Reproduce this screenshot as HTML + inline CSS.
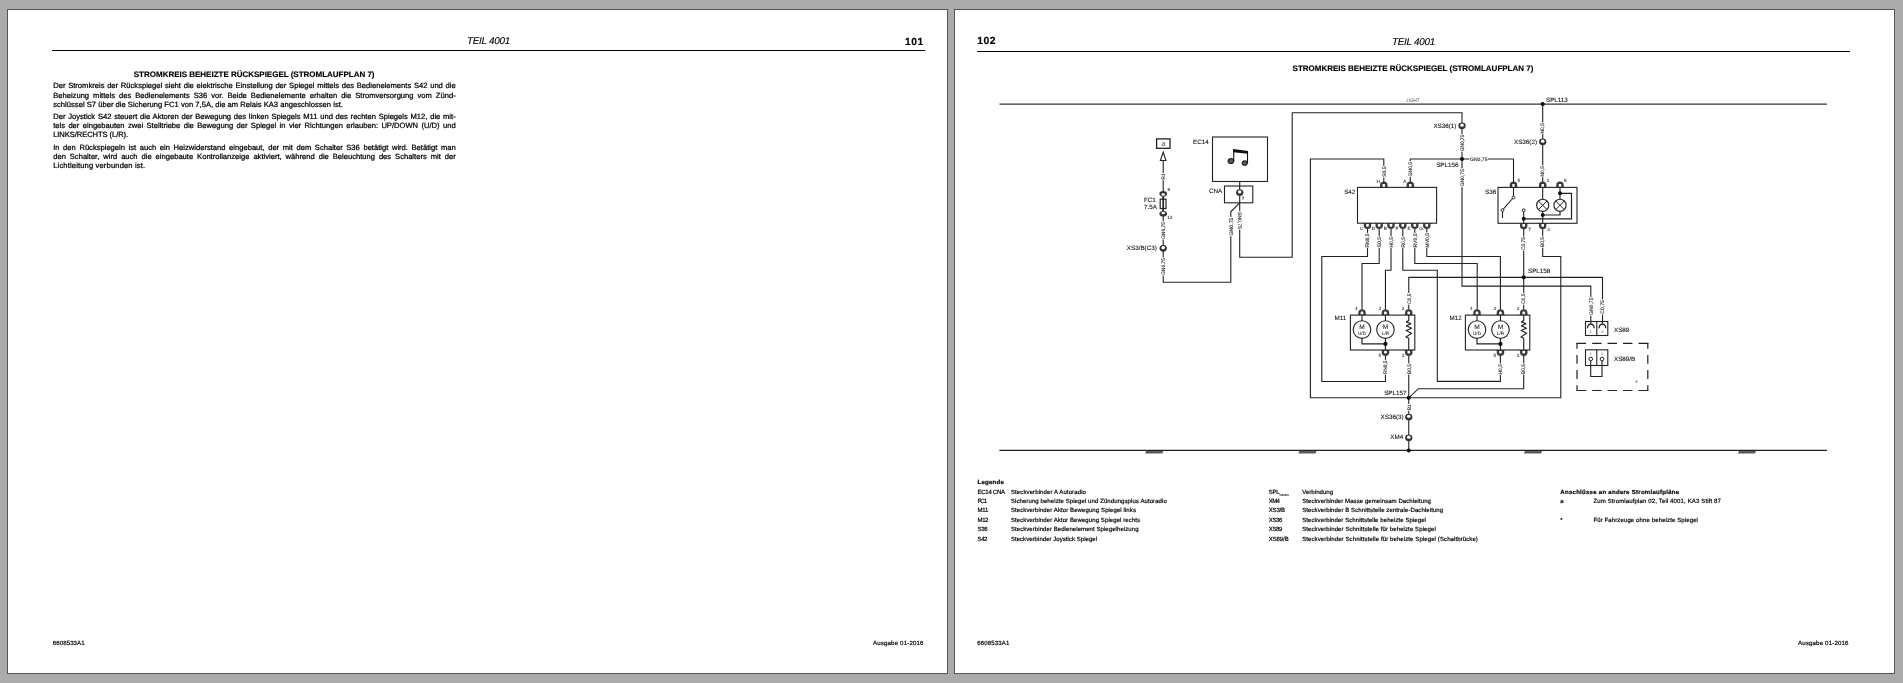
<!DOCTYPE html>
<html><head><meta charset="utf-8"><title>Stromlaufplan 7</title>
<style>
html,body{margin:0;padding:0;}
body{width:1903px;height:683px;background:#ababab;position:relative;overflow:hidden;font-family:"Liberation Sans",sans-serif;color:#000;}
#wrap{position:absolute;left:0;top:0;width:1903px;height:683px;filter:grayscale(1);}
.page{position:absolute;width:939px;height:663px;background:#fff;border:1px solid #555;}
.rule{position:absolute;height:1px;background:#000;}
.t{position:absolute;white-space:nowrap;text-rendering:geometricPrecision;}
svg{position:absolute;left:0;top:0;}
svg text{font-family:"Liberation Sans",sans-serif;text-rendering:geometricPrecision;}
</style></head>
<body>
<div id="wrap">
<div class="page" style="left:7px;top:9px;"></div>
<div class="page" style="left:954px;top:9px;"></div>
<div class="rule" style="left:52px;top:50px;width:873px;"></div>
<div class="rule" style="left:977px;top:51px;width:873px;"></div>
<div class="t" style="left:467.00px;top:36px;font-size:9.9px;line-height:12px;letter-spacing:-0.275px;font-style:italic;-webkit-text-stroke:0.12px #000;">TEIL 4001</div>
<div class="t" style="left:905.00px;top:37px;font-size:10.3px;line-height:12px;letter-spacing:0.557px;font-weight:bold;-webkit-text-stroke:0.15px #000;">101</div>
<div class="t" style="left:977.30px;top:36px;font-size:10.3px;line-height:12px;letter-spacing:0.557px;font-weight:bold;-webkit-text-stroke:0.15px #000;">102</div>
<div class="t" style="left:1392.00px;top:37px;font-size:9.9px;line-height:12px;letter-spacing:-0.275px;font-style:italic;-webkit-text-stroke:0.12px #000;">TEIL 4001</div>
<div class="t" style="left:133.80px;top:69px;font-size:8.0px;line-height:12px;letter-spacing:-0.010px;font-weight:bold;-webkit-text-stroke:0.15px #000;">STROMKREIS BEHEIZTE RÜCKSPIEGEL (STROMLAUFPLAN 7)</div>
<div class="t" style="left:53.20px;top:80px;font-size:7.6px;line-height:12px;width:402.50px;white-space:normal;text-align:justify;text-align-last:justify;-webkit-text-stroke:0.24px #000;">Der Stromkreis der Rückspiegel sieht die elektrische Einstellung der Spiegel mittels des Bedienelements S42 und die</div>
<div class="t" style="left:53.20px;top:90px;font-size:7.6px;line-height:12px;width:402.50px;white-space:normal;text-align:justify;text-align-last:justify;-webkit-text-stroke:0.24px #000;">Beheizung mittels des Bedienelements S36 vor. Beide Bedienelemente erhalten die Stromversorgung vom Zünd-</div>
<div class="t" style="left:53.20px;top:99px;font-size:7.6px;line-height:12px;letter-spacing:0.018px;-webkit-text-stroke:0.24px #000;">schlüssel S7 über die Sicherung FC1 von 7,5A, die am Relais KA3 angeschlossen ist.</div>
<div class="t" style="left:53.20px;top:111px;font-size:7.6px;line-height:12px;width:402.50px;white-space:normal;text-align:justify;text-align-last:justify;-webkit-text-stroke:0.24px #000;">Der Joystick S42 steuert die Aktoren der Bewegung des linken Spiegels M11 und des rechten Spiegels M12, die mit-</div>
<div class="t" style="left:53.20px;top:120px;font-size:7.6px;line-height:12px;width:402.50px;white-space:normal;text-align:justify;text-align-last:justify;-webkit-text-stroke:0.24px #000;">tels der eingebauten zwei Stelltriebe die Bewegung der Spiegel in vier Richtungen erlauben: UP/DOWN (U/D) und</div>
<div class="t" style="left:53.20px;top:129px;font-size:7.6px;line-height:12px;letter-spacing:-0.080px;-webkit-text-stroke:0.24px #000;">LINKS/RECHTS (L/R).</div>
<div class="t" style="left:53.20px;top:142px;font-size:7.6px;line-height:12px;width:402.50px;white-space:normal;text-align:justify;text-align-last:justify;-webkit-text-stroke:0.24px #000;">In den Rückspiegeln ist auch ein Heizwiderstand eingebaut, der mit dem Schalter S36 betätigt wird. Betätigt man</div>
<div class="t" style="left:53.20px;top:151px;font-size:7.6px;line-height:12px;width:402.50px;white-space:normal;text-align:justify;text-align-last:justify;-webkit-text-stroke:0.24px #000;">den Schalter, wird auch die eingebaute Kontrollanzeige aktiviert, während die Beleuchtung des Schalters mit der</div>
<div class="t" style="left:53.20px;top:160px;font-size:7.6px;line-height:12px;letter-spacing:0.142px;-webkit-text-stroke:0.24px #000;">Lichtleitung verbunden ist.</div>
<div class="t" style="left:52.70px;top:638px;font-size:6.1px;line-height:12px;letter-spacing:0.099px;-webkit-text-stroke:0.18px #000;">6608533A1</div>
<div class="t" style="left:873.00px;top:638px;font-size:6.1px;line-height:12px;letter-spacing:0.167px;-webkit-text-stroke:0.18px #000;">Ausgabe 01-2016</div>
<div class="t" style="left:977.30px;top:638px;font-size:6.1px;line-height:12px;letter-spacing:0.099px;-webkit-text-stroke:0.18px #000;">6608533A1</div>
<div class="t" style="left:1798.00px;top:638px;font-size:6.1px;line-height:12px;letter-spacing:0.167px;-webkit-text-stroke:0.18px #000;">Ausgabe 01-2016</div>
<div class="t" style="left:1292.60px;top:63px;font-size:8.0px;line-height:12px;letter-spacing:-0.010px;font-weight:bold;-webkit-text-stroke:0.15px #000;">STROMKREIS BEHEIZTE RÜCKSPIEGEL (STROMLAUFPLAN 7)</div>
<div class="t" style="left:977.60px;top:477px;font-size:6.05px;line-height:12px;letter-spacing:0.220px;font-weight:bold;-webkit-text-stroke:0.18px #000;">Legende</div>
<div class="t" style="left:977.60px;top:487px;font-size:6.05px;line-height:12px;letter-spacing:-0.313px;-webkit-text-stroke:0.18px #000;">EC14 CNA</div>
<div class="t" style="left:1010.90px;top:487px;font-size:6.05px;line-height:12px;letter-spacing:0.098px;-webkit-text-stroke:0.18px #000;">Steckverbinder A Autoradio</div>
<div class="t" style="left:977.60px;top:496px;font-size:6.05px;line-height:12px;letter-spacing:-0.915px;-webkit-text-stroke:0.18px #000;">FC1</div>
<div class="t" style="left:1010.90px;top:496px;font-size:6.05px;line-height:12px;letter-spacing:0.070px;-webkit-text-stroke:0.18px #000;">Sicherung beheizte Spiegel und Zündungsplus Autoradio</div>
<div class="t" style="left:977.60px;top:505px;font-size:6.05px;line-height:12px;letter-spacing:-0.260px;-webkit-text-stroke:0.18px #000;">M11</div>
<div class="t" style="left:1010.90px;top:505px;font-size:6.05px;line-height:12px;letter-spacing:0.080px;-webkit-text-stroke:0.18px #000;">Steckverbinder Aktor Bewegung Spiegel links</div>
<div class="t" style="left:977.60px;top:515px;font-size:6.05px;line-height:12px;letter-spacing:-0.485px;-webkit-text-stroke:0.18px #000;">M12</div>
<div class="t" style="left:1010.90px;top:515px;font-size:6.05px;line-height:12px;letter-spacing:0.074px;-webkit-text-stroke:0.18px #000;">Steckverbinder Aktor Bewegung Spiegel rechts</div>
<div class="t" style="left:977.60px;top:524px;font-size:6.05px;line-height:12px;letter-spacing:-0.383px;-webkit-text-stroke:0.18px #000;">S36</div>
<div class="t" style="left:1010.90px;top:524px;font-size:6.05px;line-height:12px;letter-spacing:0.053px;-webkit-text-stroke:0.18px #000;">Steckverbinder Bedienelement Spiegelheizung</div>
<div class="t" style="left:977.60px;top:534px;font-size:6.05px;line-height:12px;letter-spacing:-0.483px;-webkit-text-stroke:0.18px #000;">S42</div>
<div class="t" style="left:1010.90px;top:534px;font-size:6.05px;line-height:12px;letter-spacing:0.026px;-webkit-text-stroke:0.18px #000;">Steckverbinder Joystick Spiegel</div>
<div class="t" style="left:1268.80px;top:487px;font-size:6.05px;line-height:12px;letter-spacing:-0.266px;-webkit-text-stroke:0.18px #000;">SPL___</div>
<div class="t" style="left:1302.20px;top:487px;font-size:6.05px;line-height:12px;letter-spacing:0.032px;-webkit-text-stroke:0.18px #000;">Verbindung</div>
<div class="t" style="left:1268.80px;top:496px;font-size:6.05px;line-height:12px;letter-spacing:-0.670px;-webkit-text-stroke:0.18px #000;">XM4</div>
<div class="t" style="left:1302.20px;top:496px;font-size:6.05px;line-height:12px;letter-spacing:0.058px;-webkit-text-stroke:0.18px #000;">Steckverbinder Masse gemeinsam Dachleitung</div>
<div class="t" style="left:1268.80px;top:505px;font-size:6.05px;line-height:12px;letter-spacing:-0.238px;-webkit-text-stroke:0.18px #000;">XS3/B</div>
<div class="t" style="left:1302.20px;top:505px;font-size:6.05px;line-height:12px;letter-spacing:0.069px;-webkit-text-stroke:0.18px #000;">Steckverbinder B Schnittstelle zentrale-Dachleitung</div>
<div class="t" style="left:1268.80px;top:515px;font-size:6.05px;line-height:12px;letter-spacing:-0.400px;-webkit-text-stroke:0.18px #000;">XS36</div>
<div class="t" style="left:1302.20px;top:515px;font-size:6.05px;line-height:12px;letter-spacing:0.062px;-webkit-text-stroke:0.18px #000;">Steckverbinder Schnittstelle beheizte Spiegel</div>
<div class="t" style="left:1268.80px;top:524px;font-size:6.05px;line-height:12px;letter-spacing:-0.400px;-webkit-text-stroke:0.18px #000;">XS89</div>
<div class="t" style="left:1302.20px;top:524px;font-size:6.05px;line-height:12px;letter-spacing:0.079px;-webkit-text-stroke:0.18px #000;">Steckverbinder Schnittstelle für beheizte Spiegel</div>
<div class="t" style="left:1268.80px;top:534px;font-size:6.05px;line-height:12px;letter-spacing:-0.123px;-webkit-text-stroke:0.18px #000;">XS89/B</div>
<div class="t" style="left:1302.20px;top:534px;font-size:6.05px;line-height:12px;letter-spacing:0.084px;-webkit-text-stroke:0.18px #000;">Steckverbinder Schnittstelle für beheizte Spiegel (Schaltbrücke)</div>
<div class="t" style="left:1560.30px;top:487px;font-size:6.05px;line-height:12px;letter-spacing:0.263px;font-weight:bold;-webkit-text-stroke:0.18px #000;">Anschlüsse an andere Stromlaufpläne</div>
<div class="t" style="left:1560.30px;top:496px;font-size:6.05px;line-height:12px;-webkit-text-stroke:0.18px #000;">a</div>
<div class="t" style="left:1593.40px;top:496px;font-size:6.05px;line-height:12px;letter-spacing:0.120px;-webkit-text-stroke:0.18px #000;">Zum Stromlaufplan 02, Teil 4001, KA3 Stift 87</div>
<div class="t" style="left:1560.30px;top:515px;font-size:6.05px;line-height:12px;-webkit-text-stroke:0.18px #000;">*</div>
<div class="t" style="left:1593.40px;top:515px;font-size:6.05px;line-height:12px;letter-spacing:0.099px;-webkit-text-stroke:0.18px #000;">Für Fahrzeuge ohne beheizte Spiegel</div>
<svg width="1903" height="683" viewBox="0 0 1903 683">
<path d="M999.5,104.05 L1827,104.05" fill="none" stroke="#333" stroke-width="1.2" />
<path d="M999.4,450.4 L1827,450.4" fill="none" stroke="#222" stroke-width="1.15" />
<path d="M1146.2,450.9 L1163.3,450.9 L1162.3,453.4 L1145.1,453.4 Z" fill="#5a5a5a"/>
<path d="M1299.4,450.9 L1316.5,450.9 L1315.5,453.4 L1298.3,453.4 Z" fill="#5a5a5a"/>
<path d="M1524.9,450.9 L1542,450.9 L1541,453.4 L1523.8,453.4 Z" fill="#5a5a5a"/>
<path d="M1738.9,450.9 L1756,450.9 L1755,453.4 L1737.8,453.4 Z" fill="#5a5a5a"/>
<text x="1406.5" y="101.9" font-size="5.0" fill="#444" textLength="13" lengthAdjust="spacingAndGlyphs">LIGHT</text>
<path d="M1163.2,160.5 L1163.2,282.2 L1230.8,282.2 L1230.8,211.8 L1239.4,203.1" fill="none" stroke="#222" stroke-width="1.1" />
<path d="M1239.7,181.5 L1239.7,257.2 L1292.2,257.2 L1292.2,112.8 L1462,112.8 L1462,286.1 L1590.8,286.1 L1590.8,321.5" fill="none" stroke="#222" stroke-width="1.1" />
<path d="M1383.8,182 L1383.8,159 L1310.4,159 L1310.4,397.8 L1560.8,397.8 L1560.8,256.5 L1542.7,256.5 L1542.7,229" fill="none" stroke="#222" stroke-width="1.1" />
<path d="M1410.3,182 L1410.3,159 L1513.5,159 L1513.5,182" fill="none" stroke="#222" stroke-width="1.1" />
<path d="M1367.5,229 L1367.5,256.5 L1321.8,256.5 L1321.8,381.5 L1385.45,381.5 L1385.45,356" fill="none" stroke="#222" stroke-width="1.1" />
<path d="M1379.2,229 L1379.2,263.5 L1362,263.5 L1362,309.5" fill="none" stroke="#222" stroke-width="1.1" />
<path d="M1391,229 L1391,270.3 L1385.45,270.3 L1385.45,309.5" fill="none" stroke="#222" stroke-width="1.1" />
<path d="M1402.8,229 L1402.8,270.3 L1437.3,270.3 L1437.3,381.4 L1500.4,381.4 L1500.4,356" fill="none" stroke="#222" stroke-width="1.1" />
<path d="M1414.8,229 L1414.8,263.5 L1477.2,263.5 L1477.2,309.5" fill="none" stroke="#222" stroke-width="1.1" />
<path d="M1426.8,229 L1426.8,256.5 L1500.4,256.5 L1500.4,309.5" fill="none" stroke="#222" stroke-width="1.1" />
<path d="M1408.75,309.5 L1408.75,277.4 L1602.5,277.4 L1602.5,321.5" fill="none" stroke="#222" stroke-width="1.1" />
<path d="M1523.7,229 L1523.7,309.5" fill="none" stroke="#222" stroke-width="1.1" />
<path d="M1542.7,104 L1542.7,182" fill="none" stroke="#222" stroke-width="1.1" />
<path d="M1408.75,356 L1408.75,450.4" fill="none" stroke="#222" stroke-width="1.1" />
<path d="M1523.7,356 L1523.7,388.7 L1418.4,388.7 L1408.75,397.8" fill="none" stroke="#222" stroke-width="1.1" />
<rect x="1161" y="172.9" width="4.4" height="7.2" fill="#fff"/>
<text transform="translate(1164.95,179.5) rotate(-90)" font-size="5.0" fill="#262626" textLength="6" lengthAdjust="spacingAndGlyphs" stroke="#262626" stroke-width="0.12">R1</text>
<rect x="1161" y="221.4" width="4.4" height="18.2" fill="#fff"/>
<text transform="translate(1164.95,239) rotate(-90)" font-size="5.0" fill="#262626" textLength="17" lengthAdjust="spacingAndGlyphs" stroke="#262626" stroke-width="0.12">GN0,75</text>
<rect x="1161" y="257.4" width="4.4" height="18.2" fill="#fff"/>
<text transform="translate(1164.95,275) rotate(-90)" font-size="5.0" fill="#262626" textLength="17" lengthAdjust="spacingAndGlyphs" stroke="#262626" stroke-width="0.12">GN0,75</text>
<rect x="1228.6" y="216.9" width="4.4" height="19.2" fill="#fff"/>
<text transform="translate(1232.55,235.5) rotate(-90)" font-size="5.0" fill="#262626" textLength="18" lengthAdjust="spacingAndGlyphs" stroke="#262626" stroke-width="0.12">GN0,75</text>
<rect x="1237.5" y="210.9" width="4.4" height="18.7" fill="#fff"/>
<text transform="translate(1237.95,211.5) rotate(90)" font-size="5.0" fill="#262626" textLength="17.5" lengthAdjust="spacingAndGlyphs" stroke="#262626" stroke-width="0.12">GN0,75</text>
<rect x="1459.8" y="134.4" width="4.4" height="17.2" fill="#fff"/>
<text transform="translate(1463.75,151) rotate(-90)" font-size="5.0" fill="#262626" textLength="16" lengthAdjust="spacingAndGlyphs" stroke="#262626" stroke-width="0.12">GN0,75</text>
<rect x="1459.8" y="168.4" width="4.4" height="18.7" fill="#fff"/>
<text transform="translate(1463.75,186.5) rotate(-90)" font-size="5.0" fill="#262626" textLength="17.5" lengthAdjust="spacingAndGlyphs" stroke="#262626" stroke-width="0.12">GN0,75</text>
<rect x="1469.4" y="156.8" width="18.7" height="4.4" fill="#fff"/>
<text x="1470" y="160.75" font-size="5.0" fill="#262626" textLength="17.5" lengthAdjust="spacingAndGlyphs" stroke="#262626" stroke-width="0.12">GN0,75</text>
<rect x="1381.6" y="165.9" width="4.4" height="11.7" fill="#fff"/>
<text transform="translate(1385.55,177) rotate(-90)" font-size="5.0" fill="#262626" textLength="10.5" lengthAdjust="spacingAndGlyphs" stroke="#262626" stroke-width="0.12">S0,5</text>
<rect x="1408.1" y="161.2" width="4.4" height="15.9" fill="#fff"/>
<text transform="translate(1412.05,176.5) rotate(-90)" font-size="5.0" fill="#262626" textLength="14.7" lengthAdjust="spacingAndGlyphs" stroke="#262626" stroke-width="0.12">GN0,5</text>
<rect x="1365.3" y="232.9" width="4.4" height="15.2" fill="#fff"/>
<text transform="translate(1369.25,247.5) rotate(-90)" font-size="5.0" fill="#262626" textLength="14" lengthAdjust="spacingAndGlyphs" stroke="#262626" stroke-width="0.12">RN0,5</text>
<rect x="1377" y="236.4" width="4.4" height="11.7" fill="#fff"/>
<text transform="translate(1380.95,247.5) rotate(-90)" font-size="5.0" fill="#262626" textLength="10.5" lengthAdjust="spacingAndGlyphs" stroke="#262626" stroke-width="0.12">S0,5</text>
<rect x="1388.8" y="236.4" width="4.4" height="11.7" fill="#fff"/>
<text transform="translate(1392.75,247.5) rotate(-90)" font-size="5.0" fill="#262626" textLength="10.5" lengthAdjust="spacingAndGlyphs" stroke="#262626" stroke-width="0.12">H0,5</text>
<rect x="1400.6" y="236.4" width="4.4" height="11.7" fill="#fff"/>
<text transform="translate(1404.55,247.5) rotate(-90)" font-size="5.0" fill="#262626" textLength="10.5" lengthAdjust="spacingAndGlyphs" stroke="#262626" stroke-width="0.12">R0,5</text>
<rect x="1412.6" y="232.9" width="4.4" height="15.2" fill="#fff"/>
<text transform="translate(1416.55,247.5) rotate(-90)" font-size="5.0" fill="#262626" textLength="14" lengthAdjust="spacingAndGlyphs" stroke="#262626" stroke-width="0.12">RV0,5</text>
<rect x="1424.6" y="232.4" width="4.4" height="15.7" fill="#fff"/>
<text transform="translate(1428.55,247.5) rotate(-90)" font-size="5.0" fill="#262626" textLength="14.5" lengthAdjust="spacingAndGlyphs" stroke="#262626" stroke-width="0.12">MV0,5</text>
<rect x="1540.5" y="122.4" width="4.4" height="11.7" fill="#fff"/>
<text transform="translate(1544.45,133.5) rotate(-90)" font-size="5.0" fill="#262626" textLength="10.5" lengthAdjust="spacingAndGlyphs" stroke="#262626" stroke-width="0.12">N0,5</text>
<rect x="1540.5" y="165.4" width="4.4" height="11.7" fill="#fff"/>
<text transform="translate(1544.45,176.5) rotate(-90)" font-size="5.0" fill="#262626" textLength="10.5" lengthAdjust="spacingAndGlyphs" stroke="#262626" stroke-width="0.12">N0,5</text>
<rect x="1521.5" y="236.4" width="4.4" height="14.2" fill="#fff"/>
<text transform="translate(1525.45,250) rotate(-90)" font-size="5.0" fill="#262626" textLength="13" lengthAdjust="spacingAndGlyphs" stroke="#262626" stroke-width="0.12">C0,75</text>
<rect x="1540.5" y="236.4" width="4.4" height="11.2" fill="#fff"/>
<text transform="translate(1544.45,247) rotate(-90)" font-size="5.0" fill="#262626" textLength="10" lengthAdjust="spacingAndGlyphs" stroke="#262626" stroke-width="0.12">B0,5</text>
<rect x="1406.55" y="292.9" width="4.4" height="11.7" fill="#fff"/>
<text transform="translate(1410.5,304) rotate(-90)" font-size="5.0" fill="#262626" textLength="10.5" lengthAdjust="spacingAndGlyphs" stroke="#262626" stroke-width="0.12">C0,5</text>
<rect x="1521.5" y="292.9" width="4.4" height="11.7" fill="#fff"/>
<text transform="translate(1525.45,304) rotate(-90)" font-size="5.0" fill="#262626" textLength="10.5" lengthAdjust="spacingAndGlyphs" stroke="#262626" stroke-width="0.12">C0,5</text>
<rect x="1588.6" y="296.9" width="4.4" height="18.7" fill="#fff"/>
<text transform="translate(1592.55,315) rotate(-90)" font-size="5.0" fill="#262626" textLength="17.5" lengthAdjust="spacingAndGlyphs" stroke="#262626" stroke-width="0.12">GN0,75</text>
<rect x="1600.3" y="299.4" width="4.4" height="15.2" fill="#fff"/>
<text transform="translate(1604.25,314) rotate(-90)" font-size="5.0" fill="#262626" textLength="14" lengthAdjust="spacingAndGlyphs" stroke="#262626" stroke-width="0.12">C0,75</text>
<rect x="1383.25" y="359.9" width="4.4" height="14.7" fill="#fff"/>
<text transform="translate(1387.2,374) rotate(-90)" font-size="5.0" fill="#262626" textLength="13.5" lengthAdjust="spacingAndGlyphs" stroke="#262626" stroke-width="0.12">RN0,5</text>
<rect x="1406.55" y="363.4" width="4.4" height="11.2" fill="#fff"/>
<text transform="translate(1410.5,374) rotate(-90)" font-size="5.0" fill="#262626" textLength="10" lengthAdjust="spacingAndGlyphs" stroke="#262626" stroke-width="0.12">B0,5</text>
<rect x="1498.3" y="363.4" width="4.4" height="11.7" fill="#fff"/>
<text transform="translate(1502.25,374.5) rotate(-90)" font-size="5.0" fill="#262626" textLength="10.5" lengthAdjust="spacingAndGlyphs" stroke="#262626" stroke-width="0.12">H0,5</text>
<rect x="1521.5" y="363.4" width="4.4" height="11.2" fill="#fff"/>
<text transform="translate(1525.45,374) rotate(-90)" font-size="5.0" fill="#262626" textLength="10" lengthAdjust="spacingAndGlyphs" stroke="#262626" stroke-width="0.12">B0,5</text>
<rect x="1406.55" y="403.9" width="4.4" height="6.7" fill="#fff"/>
<text transform="translate(1410.5,410) rotate(-90)" font-size="5.0" fill="#262626" textLength="5.5" lengthAdjust="spacingAndGlyphs" stroke="#262626" stroke-width="0.12">B1</text>
<rect x="1156.6" y="138.9" width="13.4" height="9.4" fill="none" stroke="#222" stroke-width="1.3" />
<text x="1163.3" y="145.9" font-size="7.6" fill="#555" text-anchor="middle">a</text>
<path d="M1163.2,152.2 L1160.4,160.5 L1166,160.5 Z" fill="#fff" stroke="#222" stroke-width="1.1" stroke-linejoin="miter"/>
<ellipse cx="1163.2" cy="193.8" rx="3.8" ry="2.8" fill="#333"/>
<ellipse cx="1163.2" cy="194.45" rx="1.8" ry="1.3" fill="#fff"/>
<ellipse cx="1163.2" cy="213.7" rx="3.8" ry="2.8" fill="#333"/>
<ellipse cx="1163.2" cy="213.05" rx="1.8" ry="1.3" fill="#fff"/>
<rect x="1160.2" y="199.2" width="5.8" height="9.3" fill="#fff" stroke="#222" stroke-width="1.2" />
<path d="M1163.2,196.5 L1163.2,211" fill="none" stroke="#222" stroke-width="1.7" />
<text x="1168.8" y="191.3" font-size="4.7" fill="#222" text-anchor="middle" stroke="#222" stroke-width="0.07">9</text>
<text x="1169.8" y="219.3" font-size="4.7" fill="#222" text-anchor="middle" stroke="#222" stroke-width="0.07">13</text>
<text x="1144" y="202" font-size="6.27" fill="#111" stroke="#111" stroke-width="0.1">FC1</text>
<text x="1144" y="209" font-size="6.27" fill="#111" stroke="#111" stroke-width="0.1">7.5A</text>
<ellipse cx="1163.2" cy="248.3" rx="3.65" ry="3.35" fill="#333"/>
<ellipse cx="1163.2" cy="247.65" rx="1.8" ry="1.7" fill="#fff"/>
<text x="1156.8" y="250.3" font-size="6.27" fill="#111" text-anchor="end" stroke="#111" stroke-width="0.1">XS3/B(C3)</text>
<rect x="1212.5" y="137" width="55" height="44.5" fill="none" stroke="#222" stroke-width="1.1" />
<rect x="1224.5" y="186" width="28.3" height="16.8" fill="none" stroke="#222" stroke-width="1.1" />
<text x="1193" y="144" font-size="6.27" fill="#111" stroke="#111" stroke-width="0.1">EC14</text>
<text x="1209" y="192.8" font-size="6.27" fill="#111" stroke="#111" stroke-width="0.1">CNA</text>
<ellipse cx="1239.7" cy="192.5" rx="3.65" ry="3.35" fill="#333"/>
<ellipse cx="1239.7" cy="191.85" rx="1.8" ry="1.7" fill="#fff"/>
<text x="1243" y="199.5" font-size="4.7" fill="#222" text-anchor="middle" stroke="#222" stroke-width="0.07">7</text>
<ellipse cx="1230.9" cy="161.1" rx="3.0" ry="2.6" fill="#555" stroke="#111" stroke-width="1"/>
<ellipse cx="1244.7" cy="163.1" rx="2.7" ry="2.4" fill="#555" stroke="#111" stroke-width="1"/>
<path d="M1233.7,149.3 L1233.7,161" fill="none" stroke="#111" stroke-width="1.1" />
<path d="M1247.5,151 L1247.5,163" fill="none" stroke="#111" stroke-width="1.1" />
<path d="M1233.2,149 L1248,150.9 L1248,153.7 L1233.2,152.2 Z" fill="#111"/>
<ellipse cx="1462" cy="125.8" rx="3.65" ry="3.35" fill="#333"/>
<ellipse cx="1462" cy="125.15" rx="1.8" ry="1.7" fill="#fff"/>
<text x="1456.4" y="128" font-size="6.27" fill="#111" text-anchor="end" stroke="#111" stroke-width="0.1">XS36(1)</text>
<circle cx="1462" cy="159" r="2.1" fill="#111"/>
<text x="1436.2" y="167" font-size="6.27" fill="#111" stroke="#111" stroke-width="0.1">SPL156</text>
<rect x="1357.5" y="187.4" width="79.1" height="35.8" fill="#fff" stroke="#222" stroke-width="1.1" />
<text x="1344.2" y="193.5" font-size="6.27" fill="#111" stroke="#111" stroke-width="0.1">S42</text>
<circle cx="1383.8" cy="185.25" r="3.75" fill="#3a3a3a"/>
<rect x="1382.45" y="183.9" width="2.7" height="3" rx="0.9" fill="#fff"/>
<rect x="1379.6" y="187.4" width="8.4" height="2.2" fill="#fff"/>
<path d="M1379.4,187.4 L1388.2,187.4" stroke="#222" stroke-width="1.1" fill="none"/>
<text x="1378.2" y="182.6" font-size="4.7" fill="#222" text-anchor="middle" stroke="#222" stroke-width="0.07">H</text>
<circle cx="1410.3" cy="185.25" r="3.75" fill="#3a3a3a"/>
<rect x="1408.95" y="183.9" width="2.7" height="3" rx="0.9" fill="#fff"/>
<rect x="1406.1" y="187.4" width="8.4" height="2.2" fill="#fff"/>
<path d="M1405.9,187.4 L1414.7,187.4" stroke="#222" stroke-width="1.1" fill="none"/>
<text x="1404.7" y="182.6" font-size="4.7" fill="#222" text-anchor="middle" stroke="#222" stroke-width="0.07">A</text>
<circle cx="1367.5" cy="225.35" r="3.75" fill="#3a3a3a"/>
<rect x="1366.15" y="223.7" width="2.7" height="3" rx="0.9" fill="#fff"/>
<rect x="1363.3" y="221" width="8.4" height="2.2" fill="#fff"/>
<path d="M1363.1,223.2 L1371.9,223.2" stroke="#222" stroke-width="1.1" fill="none"/>
<text x="1361.7" y="230" font-size="4.7" fill="#222" text-anchor="middle" stroke="#222" stroke-width="0.07">C</text>
<circle cx="1379.2" cy="225.35" r="3.75" fill="#3a3a3a"/>
<rect x="1377.85" y="223.7" width="2.7" height="3" rx="0.9" fill="#fff"/>
<rect x="1375" y="221" width="8.4" height="2.2" fill="#fff"/>
<path d="M1374.8,223.2 L1383.6,223.2" stroke="#222" stroke-width="1.1" fill="none"/>
<text x="1373.4" y="230" font-size="4.7" fill="#222" text-anchor="middle" stroke="#222" stroke-width="0.07">D</text>
<circle cx="1391" cy="225.35" r="3.75" fill="#3a3a3a"/>
<rect x="1389.65" y="223.7" width="2.7" height="3" rx="0.9" fill="#fff"/>
<rect x="1386.8" y="221" width="8.4" height="2.2" fill="#fff"/>
<path d="M1386.6,223.2 L1395.4,223.2" stroke="#222" stroke-width="1.1" fill="none"/>
<text x="1385.2" y="230" font-size="4.7" fill="#222" text-anchor="middle" stroke="#222" stroke-width="0.07">B</text>
<circle cx="1402.8" cy="225.35" r="3.75" fill="#3a3a3a"/>
<rect x="1401.45" y="223.7" width="2.7" height="3" rx="0.9" fill="#fff"/>
<rect x="1398.6" y="221" width="8.4" height="2.2" fill="#fff"/>
<path d="M1398.4,223.2 L1407.2,223.2" stroke="#222" stroke-width="1.1" fill="none"/>
<text x="1397" y="230" font-size="4.7" fill="#222" text-anchor="middle" stroke="#222" stroke-width="0.07">F</text>
<circle cx="1414.8" cy="225.35" r="3.75" fill="#3a3a3a"/>
<rect x="1413.45" y="223.7" width="2.7" height="3" rx="0.9" fill="#fff"/>
<rect x="1410.6" y="221" width="8.4" height="2.2" fill="#fff"/>
<path d="M1410.4,223.2 L1419.2,223.2" stroke="#222" stroke-width="1.1" fill="none"/>
<text x="1409" y="230" font-size="4.7" fill="#222" text-anchor="middle" stroke="#222" stroke-width="0.07">E</text>
<circle cx="1426.8" cy="225.35" r="3.75" fill="#3a3a3a"/>
<rect x="1425.45" y="223.7" width="2.7" height="3" rx="0.9" fill="#fff"/>
<rect x="1422.6" y="221" width="8.4" height="2.2" fill="#fff"/>
<path d="M1422.4,223.2 L1431.2,223.2" stroke="#222" stroke-width="1.1" fill="none"/>
<text x="1421" y="230" font-size="4.7" fill="#222" text-anchor="middle" stroke="#222" stroke-width="0.07">G</text>
<circle cx="1542.7" cy="104" r="2.1" fill="#111"/>
<text x="1546" y="101.7" font-size="6.27" fill="#111" stroke="#111" stroke-width="0.1">SPL113</text>
<ellipse cx="1542.7" cy="141.8" rx="3.65" ry="3.35" fill="#333"/>
<ellipse cx="1542.7" cy="141.15" rx="1.8" ry="1.7" fill="#fff"/>
<text x="1537" y="144" font-size="6.27" fill="#111" text-anchor="end" stroke="#111" stroke-width="0.1">XS36(2)</text>
<rect x="1498" y="187.4" width="79" height="35.9" fill="#fff" stroke="#222" stroke-width="1.1" />
<text x="1485" y="193.5" font-size="6.27" fill="#111" stroke="#111" stroke-width="0.1">S36</text>
<circle cx="1513.5" cy="185.25" r="3.75" fill="#3a3a3a"/>
<rect x="1512.15" y="183.9" width="2.7" height="3" rx="0.9" fill="#fff"/>
<rect x="1509.3" y="187.4" width="8.4" height="2.2" fill="#fff"/>
<path d="M1509.1,187.4 L1517.9,187.4" stroke="#222" stroke-width="1.1" fill="none"/>
<text x="1518.9" y="181.8" font-size="4.7" fill="#222" text-anchor="middle" stroke="#222" stroke-width="0.07">5</text>
<circle cx="1542.7" cy="185.25" r="3.75" fill="#3a3a3a"/>
<rect x="1541.35" y="183.9" width="2.7" height="3" rx="0.9" fill="#fff"/>
<rect x="1538.5" y="187.4" width="8.4" height="2.2" fill="#fff"/>
<path d="M1538.3,187.4 L1547.1,187.4" stroke="#222" stroke-width="1.1" fill="none"/>
<text x="1548.1" y="181.8" font-size="4.7" fill="#222" text-anchor="middle" stroke="#222" stroke-width="0.07">1</text>
<circle cx="1560" cy="185.25" r="3.75" fill="#3a3a3a"/>
<rect x="1558.65" y="183.9" width="2.7" height="3" rx="0.9" fill="#fff"/>
<rect x="1555.8" y="187.4" width="8.4" height="2.2" fill="#fff"/>
<path d="M1555.6,187.4 L1564.4,187.4" stroke="#222" stroke-width="1.1" fill="none"/>
<text x="1565.4" y="181.8" font-size="4.7" fill="#222" text-anchor="middle" stroke="#222" stroke-width="0.07">9</text>
<circle cx="1523.7" cy="225.45" r="3.75" fill="#3a3a3a"/>
<rect x="1522.35" y="223.8" width="2.7" height="3" rx="0.9" fill="#fff"/>
<rect x="1519.5" y="221.1" width="8.4" height="2.2" fill="#fff"/>
<path d="M1519.3,223.3 L1528.1,223.3" stroke="#222" stroke-width="1.1" fill="none"/>
<text x="1529.6" y="231" font-size="4.7" fill="#222" text-anchor="middle" stroke="#222" stroke-width="0.07">7</text>
<circle cx="1542.7" cy="225.45" r="3.75" fill="#3a3a3a"/>
<rect x="1541.35" y="223.8" width="2.7" height="3" rx="0.9" fill="#fff"/>
<rect x="1538.5" y="221.1" width="8.4" height="2.2" fill="#fff"/>
<path d="M1538.3,223.3 L1547.1,223.3" stroke="#222" stroke-width="1.1" fill="none"/>
<text x="1548.6" y="231" font-size="4.7" fill="#222" text-anchor="middle" stroke="#222" stroke-width="0.07">2</text>
<path d="M1513.5,187.4 L1513.5,196.3" fill="none" stroke="#222" stroke-width="1.1" />
<path d="M1512.6,198.5 L1503.3,209.2" fill="none" stroke="#222" stroke-width="1.1" />
<circle cx="1513.5" cy="197.5" r="1.4" fill="#fff" stroke="#222" stroke-width="1.0"/>
<circle cx="1502.5" cy="210.2" r="1.4" fill="#fff" stroke="#222" stroke-width="1.0"/>
<circle cx="1523.7" cy="210.2" r="1.4" fill="#fff" stroke="#222" stroke-width="1.0"/>
<path d="M1502.5,211.5 L1502.5,218" fill="none" stroke="#222" stroke-width="1.1" />
<path d="M1523.7,211.5 L1523.7,223.3" fill="none" stroke="#222" stroke-width="1.1" />
<path d="M1523.7,218.8 L1571.5,218.8 L1571.5,193.3 L1560,193.3" fill="none" stroke="#222" stroke-width="1.2" />
<path d="M1542.7,187.4 L1542.7,199" fill="none" stroke="#222" stroke-width="1.1" />
<path d="M1542.7,211.5 L1542.7,223.3" fill="none" stroke="#222" stroke-width="1.1" />
<path d="M1560,187.4 L1560,199" fill="none" stroke="#222" stroke-width="1.1" />
<path d="M1542.7,215 L1560,215 L1560,211.5" fill="none" stroke="#222" stroke-width="1.2" />
<circle cx="1542.7" cy="205.3" r="6.1" fill="#fff" stroke="#222" stroke-width="1.1"/>
<path d="M1538.4,201 L1547,209.6" fill="none" stroke="#222" stroke-width="1.0" />
<path d="M1538.4,209.6 L1547,201" fill="none" stroke="#222" stroke-width="1.0" />
<circle cx="1560" cy="205.3" r="6.1" fill="#fff" stroke="#222" stroke-width="1.1"/>
<path d="M1555.7,201 L1564.3,209.6" fill="none" stroke="#222" stroke-width="1.0" />
<path d="M1555.7,209.6 L1564.3,201" fill="none" stroke="#222" stroke-width="1.0" />
<circle cx="1560" cy="193.3" r="2.0" fill="#111"/>
<circle cx="1542.7" cy="215" r="2.0" fill="#111"/>
<circle cx="1523.7" cy="218.8" r="2.0" fill="#111"/>
<circle cx="1523.7" cy="277.3" r="2.1" fill="#111"/>
<text x="1528" y="273" font-size="6.27" fill="#111" stroke="#111" stroke-width="0.1">SPL158</text>
<rect x="1350.4" y="315.1" width="64.4" height="34.9" fill="#fff" stroke="#222" stroke-width="1.1" />
<text x="1334.5" y="319.8" font-size="6.27" fill="#111" stroke="#111" stroke-width="0.1">M11</text>
<circle cx="1362" cy="312.95" r="3.75" fill="#3a3a3a"/>
<rect x="1360.65" y="311.6" width="2.7" height="3" rx="0.9" fill="#fff"/>
<rect x="1357.8" y="315.1" width="8.4" height="2.2" fill="#fff"/>
<path d="M1357.6,315.1 L1366.4,315.1" stroke="#222" stroke-width="1.1" fill="none"/>
<text x="1356.3" y="310.3" font-size="4.7" fill="#222" text-anchor="middle" stroke="#222" stroke-width="0.07">4</text>
<circle cx="1385.45" cy="312.95" r="3.75" fill="#3a3a3a"/>
<rect x="1384.1" y="311.6" width="2.7" height="3" rx="0.9" fill="#fff"/>
<rect x="1381.25" y="315.1" width="8.4" height="2.2" fill="#fff"/>
<path d="M1381.05,315.1 L1389.85,315.1" stroke="#222" stroke-width="1.1" fill="none"/>
<text x="1379.75" y="310.3" font-size="4.7" fill="#222" text-anchor="middle" stroke="#222" stroke-width="0.07">3</text>
<circle cx="1408.75" cy="312.95" r="3.75" fill="#3a3a3a"/>
<rect x="1407.4" y="311.6" width="2.7" height="3" rx="0.9" fill="#fff"/>
<rect x="1404.55" y="315.1" width="8.4" height="2.2" fill="#fff"/>
<path d="M1404.35,315.1 L1413.15,315.1" stroke="#222" stroke-width="1.1" fill="none"/>
<text x="1403.05" y="310.3" font-size="4.7" fill="#222" text-anchor="middle" stroke="#222" stroke-width="0.07">2</text>
<circle cx="1385.45" cy="352.15" r="3.75" fill="#3a3a3a"/>
<rect x="1384.1" y="350.5" width="2.7" height="3" rx="0.9" fill="#fff"/>
<rect x="1381.25" y="347.8" width="8.4" height="2.2" fill="#fff"/>
<path d="M1381.05,350 L1389.85,350" stroke="#222" stroke-width="1.1" fill="none"/>
<text x="1379.85" y="357.3" font-size="4.7" fill="#222" text-anchor="middle" stroke="#222" stroke-width="0.07">5</text>
<circle cx="1408.75" cy="352.15" r="3.75" fill="#3a3a3a"/>
<rect x="1407.4" y="350.5" width="2.7" height="3" rx="0.9" fill="#fff"/>
<rect x="1404.55" y="347.8" width="8.4" height="2.2" fill="#fff"/>
<path d="M1404.35,350 L1413.15,350" stroke="#222" stroke-width="1.1" fill="none"/>
<text x="1403.15" y="357.3" font-size="4.7" fill="#222" text-anchor="middle" stroke="#222" stroke-width="0.07">1</text>
<path d="M1362,315.1 L1362,321" fill="none" stroke="#222" stroke-width="1.1" />
<path d="M1385.45,315.1 L1385.45,321" fill="none" stroke="#222" stroke-width="1.1" />
<path d="M1362,338.4 L1362,343.9 L1385.45,343.9" fill="none" stroke="#222" stroke-width="1.2" />
<path d="M1385.45,338.4 L1385.45,350" fill="none" stroke="#222" stroke-width="1.2" />
<circle cx="1362" cy="329.6" r="8.8" fill="#fff" stroke="#222" stroke-width="1.1"/>
<text x="1362" y="329.4" font-size="6.6" fill="#333" text-anchor="middle" stroke="#333" stroke-width="0.1">M</text>
<text x="1362" y="334.8" font-size="4.6" fill="#333" text-anchor="middle" stroke="#333" stroke-width="0.1">U/D</text>
<circle cx="1385.45" cy="329.6" r="8.8" fill="#fff" stroke="#222" stroke-width="1.1"/>
<text x="1385.45" y="329.4" font-size="6.6" fill="#333" text-anchor="middle" stroke="#333" stroke-width="0.1">M</text>
<text x="1385.45" y="334.8" font-size="4.6" fill="#333" text-anchor="middle" stroke="#333" stroke-width="0.1">L/R</text>
<circle cx="1385.45" cy="343.9" r="2.1" fill="#111"/>
<path d="M1408.75,315.1 L1408.75,320.6 L1406.65,321.8 L1410.55,323.7 L1406.75,325.8 L1411.45,328.3 L1406.15,330.5 L1411.65,333.2 L1405.95,337 L1408.75,338.3 L1408.75,350" fill="none" stroke="#222" stroke-width="1.15" stroke-linejoin="round"/>
<circle cx="1406.85" cy="321.8" r="0.9" fill="#222"/>
<circle cx="1410.35" cy="323.7" r="0.9" fill="#222"/>
<circle cx="1406.95" cy="325.8" r="0.9" fill="#222"/>
<rect x="1465.4" y="315.1" width="64.4" height="34.9" fill="#fff" stroke="#222" stroke-width="1.1" />
<text x="1449.5" y="319.8" font-size="6.27" fill="#111" stroke="#111" stroke-width="0.1">M12</text>
<circle cx="1477" cy="312.95" r="3.75" fill="#3a3a3a"/>
<rect x="1475.65" y="311.6" width="2.7" height="3" rx="0.9" fill="#fff"/>
<rect x="1472.8" y="315.1" width="8.4" height="2.2" fill="#fff"/>
<path d="M1472.6,315.1 L1481.4,315.1" stroke="#222" stroke-width="1.1" fill="none"/>
<text x="1471.3" y="310.3" font-size="4.7" fill="#222" text-anchor="middle" stroke="#222" stroke-width="0.07">4</text>
<circle cx="1500.45" cy="312.95" r="3.75" fill="#3a3a3a"/>
<rect x="1499.1" y="311.6" width="2.7" height="3" rx="0.9" fill="#fff"/>
<rect x="1496.25" y="315.1" width="8.4" height="2.2" fill="#fff"/>
<path d="M1496.05,315.1 L1504.85,315.1" stroke="#222" stroke-width="1.1" fill="none"/>
<text x="1494.75" y="310.3" font-size="4.7" fill="#222" text-anchor="middle" stroke="#222" stroke-width="0.07">3</text>
<circle cx="1523.75" cy="312.95" r="3.75" fill="#3a3a3a"/>
<rect x="1522.4" y="311.6" width="2.7" height="3" rx="0.9" fill="#fff"/>
<rect x="1519.55" y="315.1" width="8.4" height="2.2" fill="#fff"/>
<path d="M1519.35,315.1 L1528.15,315.1" stroke="#222" stroke-width="1.1" fill="none"/>
<text x="1518.05" y="310.3" font-size="4.7" fill="#222" text-anchor="middle" stroke="#222" stroke-width="0.07">2</text>
<circle cx="1500.45" cy="352.15" r="3.75" fill="#3a3a3a"/>
<rect x="1499.1" y="350.5" width="2.7" height="3" rx="0.9" fill="#fff"/>
<rect x="1496.25" y="347.8" width="8.4" height="2.2" fill="#fff"/>
<path d="M1496.05,350 L1504.85,350" stroke="#222" stroke-width="1.1" fill="none"/>
<text x="1494.85" y="357.3" font-size="4.7" fill="#222" text-anchor="middle" stroke="#222" stroke-width="0.07">5</text>
<circle cx="1523.75" cy="352.15" r="3.75" fill="#3a3a3a"/>
<rect x="1522.4" y="350.5" width="2.7" height="3" rx="0.9" fill="#fff"/>
<rect x="1519.55" y="347.8" width="8.4" height="2.2" fill="#fff"/>
<path d="M1519.35,350 L1528.15,350" stroke="#222" stroke-width="1.1" fill="none"/>
<text x="1518.15" y="357.3" font-size="4.7" fill="#222" text-anchor="middle" stroke="#222" stroke-width="0.07">1</text>
<path d="M1477,315.1 L1477,321" fill="none" stroke="#222" stroke-width="1.1" />
<path d="M1500.45,315.1 L1500.45,321" fill="none" stroke="#222" stroke-width="1.1" />
<path d="M1477,338.4 L1477,343.9 L1500.45,343.9" fill="none" stroke="#222" stroke-width="1.2" />
<path d="M1500.45,338.4 L1500.45,350" fill="none" stroke="#222" stroke-width="1.2" />
<circle cx="1477" cy="329.6" r="8.8" fill="#fff" stroke="#222" stroke-width="1.1"/>
<text x="1477" y="329.4" font-size="6.6" fill="#333" text-anchor="middle" stroke="#333" stroke-width="0.1">M</text>
<text x="1477" y="334.8" font-size="4.6" fill="#333" text-anchor="middle" stroke="#333" stroke-width="0.1">U/D</text>
<circle cx="1500.45" cy="329.6" r="8.8" fill="#fff" stroke="#222" stroke-width="1.1"/>
<text x="1500.45" y="329.4" font-size="6.6" fill="#333" text-anchor="middle" stroke="#333" stroke-width="0.1">M</text>
<text x="1500.45" y="334.8" font-size="4.6" fill="#333" text-anchor="middle" stroke="#333" stroke-width="0.1">L/R</text>
<circle cx="1500.45" cy="343.9" r="2.1" fill="#111"/>
<path d="M1523.75,315.1 L1523.75,320.6 L1521.65,321.8 L1525.55,323.7 L1521.75,325.8 L1526.45,328.3 L1521.15,330.5 L1526.65,333.2 L1520.95,337 L1523.75,338.3 L1523.75,350" fill="none" stroke="#222" stroke-width="1.15" stroke-linejoin="round"/>
<circle cx="1521.85" cy="321.8" r="0.9" fill="#222"/>
<circle cx="1525.35" cy="323.7" r="0.9" fill="#222"/>
<circle cx="1521.95" cy="325.8" r="0.9" fill="#222"/>
<circle cx="1408.75" cy="397.8" r="2.1" fill="#111"/>
<text x="1384.2" y="394.8" font-size="6.27" fill="#111" stroke="#111" stroke-width="0.1">SPL157</text>
<ellipse cx="1408.75" cy="417" rx="3.65" ry="3.35" fill="#333"/>
<ellipse cx="1408.75" cy="416.35" rx="1.8" ry="1.7" fill="#fff"/>
<text x="1403.6" y="419.4" font-size="6.27" fill="#111" text-anchor="end" stroke="#111" stroke-width="0.1">XS36(3)</text>
<ellipse cx="1408.75" cy="437.8" rx="3.65" ry="3.35" fill="#333"/>
<ellipse cx="1408.75" cy="437.15" rx="1.8" ry="1.7" fill="#fff"/>
<text x="1403.2" y="439.3" font-size="6.27" fill="#111" text-anchor="end" stroke="#111" stroke-width="0.1">XM4</text>
<circle cx="1408.75" cy="450.4" r="2.0" fill="#111"/>
<rect x="1585.5" y="321.5" width="22.3" height="14" fill="#fff" stroke="#222" stroke-width="1.1" />
<path d="M1596.8,321.5 L1596.8,335.5" fill="none" stroke="#222" stroke-width="1.1" />
<path d="M1590.8,321.5 L1590.8,323.9" fill="none" stroke="#222" stroke-width="1.1" />
<path d="M1587.5,328.3 C1587.5,322.6 1594.1,322.6 1594.1,328.3" fill="none" stroke="#222" stroke-width="1.25"/>
<text x="1590.8" y="333.2" font-size="3.6" fill="#777" text-anchor="middle" stroke="#777" stroke-width="0.1">1</text>
<path d="M1602.4,321.5 L1602.4,323.9" fill="none" stroke="#222" stroke-width="1.1" />
<path d="M1599.1,328.3 C1599.1,322.6 1605.7,322.6 1605.7,328.3" fill="none" stroke="#222" stroke-width="1.25"/>
<text x="1602.4" y="333.2" font-size="3.6" fill="#777" text-anchor="middle" stroke="#777" stroke-width="0.1">2</text>
<text x="1614" y="332" font-size="6.27" fill="#111" stroke="#111" stroke-width="0.1">XS89</text>
<path d="M1576.4,343.3 L1648.4,343.3" fill="none" stroke="#222" stroke-width="1.2" stroke-dasharray="9.7 6.05 9.4 6.05 9.4 6.05 9.4 6.05 12"/>
<path d="M1576.4,390.5 L1648.4,390.5" fill="none" stroke="#222" stroke-width="1.2" stroke-dasharray="9.7 6.05 9.4 6.05 9.4 6.05 9.4 6.05 12"/>
<path d="M1577,343.3 L1577,390.5" fill="none" stroke="#222" stroke-width="1.2" stroke-dasharray="5.4 6.4 8.6 6.3 8.9 6.3 12"/>
<path d="M1647.8,343.3 L1647.8,390.5" fill="none" stroke="#222" stroke-width="1.2" stroke-dasharray="5.4 6.4 8.6 6.3 8.9 6.3 12"/>
<rect x="1585.5" y="349.8" width="22.3" height="15.7" fill="#fff" stroke="#222" stroke-width="1.1" />
<path d="M1596.8,349.8 L1596.8,365.5" fill="none" stroke="#222" stroke-width="1.1" />
<text x="1590.7" y="354.9" font-size="3.6" fill="#777" text-anchor="middle" stroke="#777" stroke-width="0.1">1</text>
<circle cx="1590.7" cy="359" r="1.85" fill="#fff" stroke="#222" stroke-width="1.0"/>
<text x="1602" y="354.9" font-size="3.6" fill="#777" text-anchor="middle" stroke="#777" stroke-width="0.1">2</text>
<circle cx="1602" cy="359" r="1.85" fill="#fff" stroke="#222" stroke-width="1.0"/>
<path d="M1590.7,361 L1590.7,376.5 L1602,376.5 L1602,361" fill="none" stroke="#222" stroke-width="1.1" />
<text x="1614" y="360.5" font-size="6.27" fill="#111" stroke="#111" stroke-width="0.1">XS89/B</text>
<text x="1636.4" y="383.6" font-size="5" fill="#444" text-anchor="middle" stroke="#444" stroke-width="0.1">*</text>
</svg>
</div>
</body></html>
